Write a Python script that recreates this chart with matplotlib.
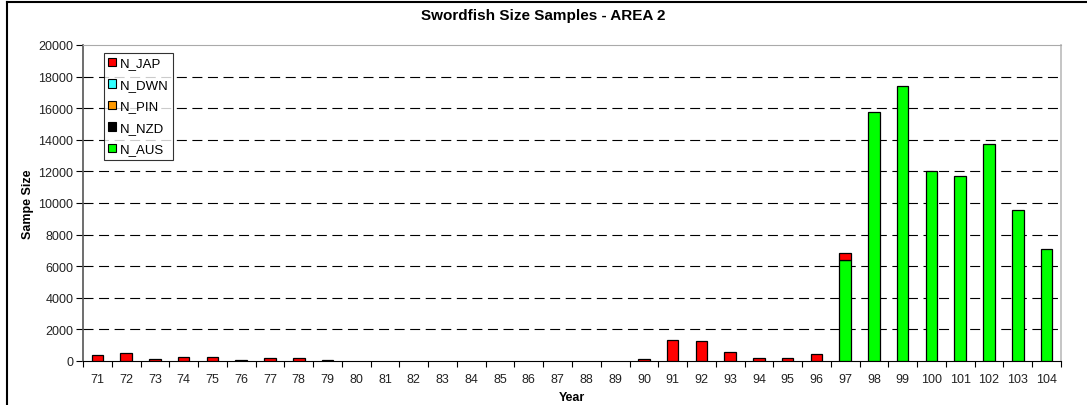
import numpy as np
import matplotlib.pyplot as plt
from matplotlib.lines import Line2D
from matplotlib.patches import Patch

plt.rcParams['font.family'] = ['Liberation Sans', 'DejaVu Sans']

years = [str(y) for y in range(71, 105)]

# samples per fleet, by year
n_jap = [360, 506, 105, 253, 250, 40, 190, 190, 40, 0,
         0, 0, 0, 0, 0, 0, 0, 0, 0, 105,
         1330, 1266, 580, 170, 170, 420, 470, 0, 0, 0,
         0, 0, 0, 0]
n_dwn = [0] * 34
n_pin = [0] * 34
n_nzd = [0] * 34
n_aus = [0, 0, 0, 0, 0, 0, 0, 0, 0, 0,
         0, 0, 0, 0, 0, 0, 0, 0, 0, 0,
         0, 0, 0, 0, 0, 0, 6370, 15740, 17385, 12000,
         11690, 13730, 9580, 7090]

series = [("N_AUS", n_aus, "#00ff00"),
          ("N_NZD", n_nzd, "#000000"),
          ("N_PIN", n_pin, "#ff9900"),
          ("N_DWN", n_dwn, "#33ffff"),
          ("N_JAP", n_jap, "#ff0000")]

fig = plt.figure(figsize=(10.87, 4.06), dpi=100)
ax = fig.add_axes([0.0764, 0.1084, 0.8996, 0.7783])

x = np.arange(len(years))
bottom = np.zeros(len(years))
for name, vals, col in series:
    vals = np.array(vals, dtype=float)
    keep = vals > 0  # skip empty segments so no stray edge lines
    if keep.any():
        ax.bar(x[keep], vals[keep], width=0.4, bottom=bottom[keep], color=col,
               edgecolor="black", linewidth=0.9, zorder=3)
    bottom += vals

ax.set_xlim(-0.5, len(years) - 0.5)
ax.set_ylim(0, 20000)
ax.set_yticks(np.arange(0, 20001, 2000))
ax.set_xticks(x)
ax.set_xticklabels(years)
ax.set_xticks(np.arange(-0.5, len(years), 1), minor=True)
ax.tick_params(axis="x", which="major", length=0, labelsize=9, pad=9,
               labelcolor="#222222")
ax.tick_params(axis="x", which="minor", length=4, direction="out", width=0.8)
ax.tick_params(axis="y", length=5, direction="out", labelsize=9, width=0.8,
               pad=2, labelcolor="#222222")

# dashed grid
for v in range(2000, 20000, 2000):
    ax.axhline(v, color="black", lw=0.8, ls=(0, (9, 5)), zorder=1)

ax.spines["left"].set_color("#555555")
ax.spines["left"].set_linewidth(1.2)
ax.spines["bottom"].set_color("black")
ax.spines["top"].set_color("#aaaaaa")
ax.spines["right"].set_color("#bbbbbb")
ax.spines["right"].set_linewidth(1.2)

ax.set_xlabel("Year", fontsize=9, fontweight="bold", labelpad=4)
ax.set_ylabel("Sampe Size", fontsize=9, fontweight="bold", labelpad=3)
fig.text(0.5, 0.96, "Swordfish Size Samples - AREA 2", ha="center",
         va="center", fontsize=11, fontweight="bold")

handles = [Patch(facecolor=c, edgecolor="black", linewidth=0.8, label=n)
           for n, _, c in reversed(series)]
leg = ax.legend(handles=handles, loc="upper left", bbox_to_anchor=(0.021, 0.975),
                fontsize=9.5, frameon=True, fancybox=False, handlelength=0.6,
                handleheight=0.6, handletextpad=0.25, borderpad=0.35,
                labelspacing=0.72, borderaxespad=0)
leg.get_frame().set_edgecolor("black")
leg.get_frame().set_linewidth(0.8)

# chart border (top and left edges visible)
fig.add_artist(Line2D([7 / 1087, 1], [1 - 3 / 406, 1 - 3 / 406],
                      transform=fig.transFigure, color="black", lw=1.5))
fig.add_artist(Line2D([7 / 1087, 7 / 1087], [0, 1 - 3 / 406],
                      transform=fig.transFigure, color="black", lw=1.5))

fig.savefig("out.png", dpi=100)
